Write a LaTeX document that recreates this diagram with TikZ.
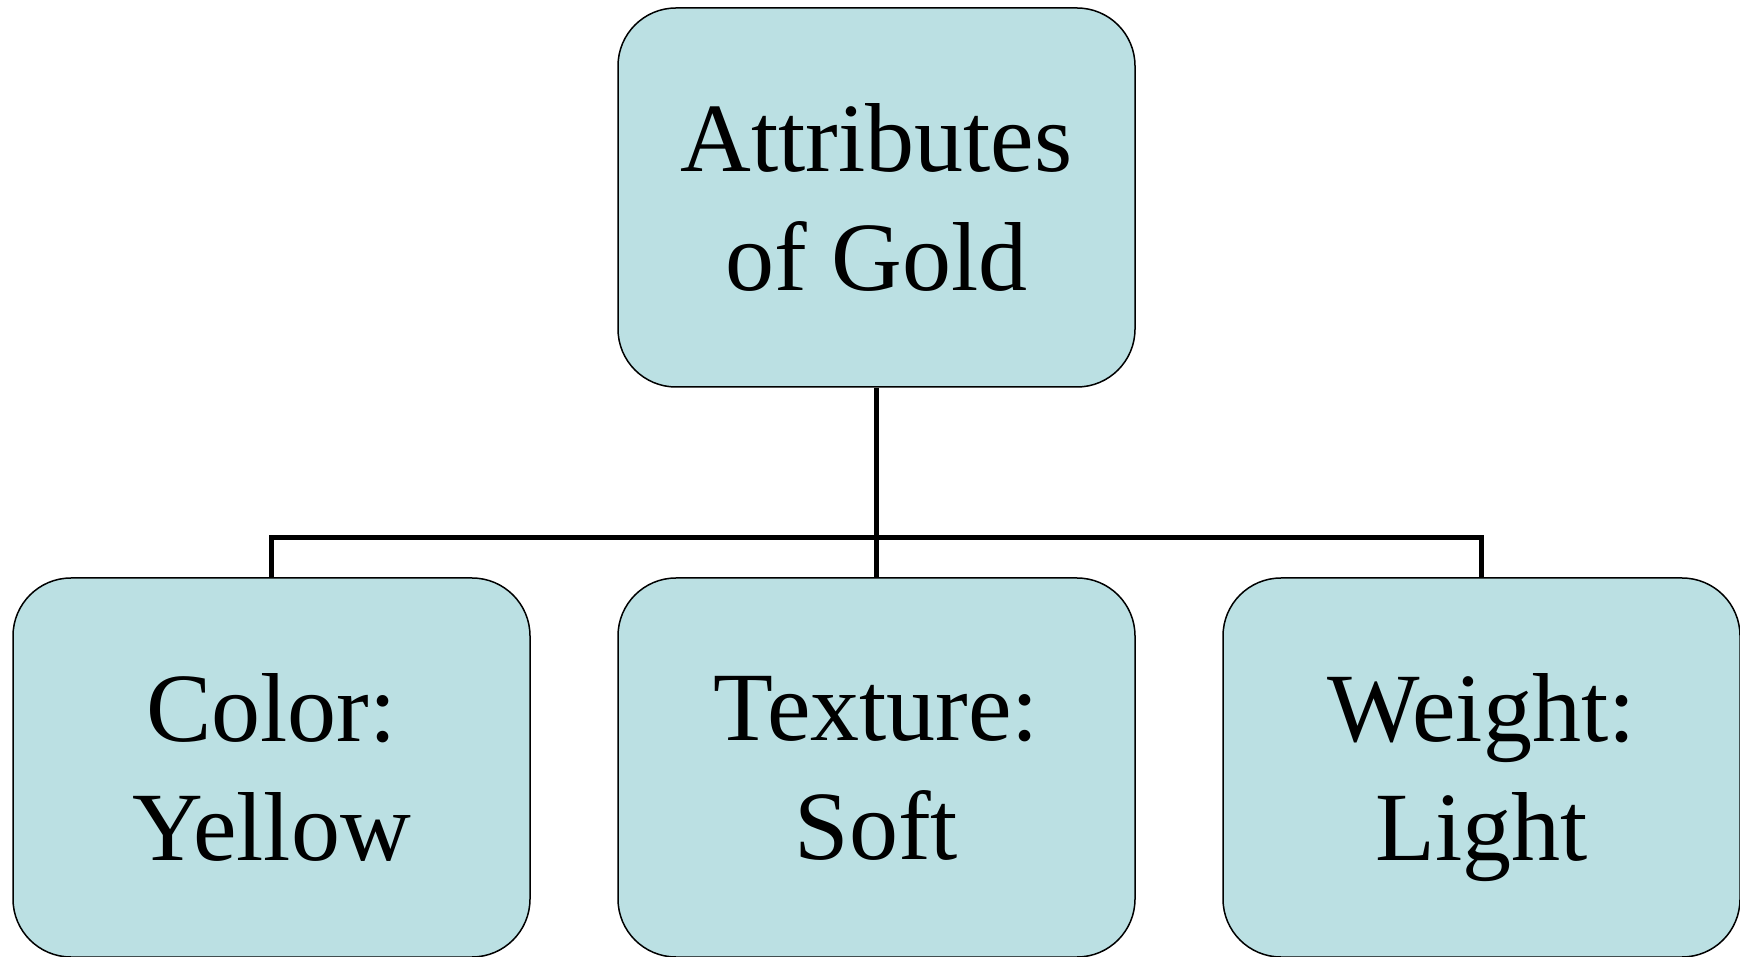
\documentclass[tikz,border=0pt]{standalone}
\usepackage{fontspec}
\setmainfont{Liberation Serif}
\definecolor{boxfill}{RGB}{187,224,227}
\begin{document}
\begin{tikzpicture}[x=1pt,y=1pt,
  attr/.style={draw=black, line width=1.5pt, fill=boxfill, rounded corners=58pt,
    minimum width=517pt, minimum height=379pt, inner sep=0pt, align=center,
    text depth=0pt, font=\fontsize{98}{119}\selectfont},
  conn/.style={draw=black, line width=5pt, line join=miter}]
\useasboundingbox (0,0) rectangle (1740,956);
\node[attr] (top) at (876.5,758.5) {Attributes\\of Gold};
\node[attr] (left) at (271.5,188.5) {Color:\\Yellow};
\node[attr] (mid) at (876.5,188.5) {Texture:\\Soft};
\node[attr] (right) at (1481.5,188.5) {Weight:\\Light};
\coordinate (bus) at (876.5,418);
\draw[conn] (top.south) -- (mid.north);
\draw[conn] (left.north) |- (bus) -| (right.north);
\end{tikzpicture}
\end{document}
